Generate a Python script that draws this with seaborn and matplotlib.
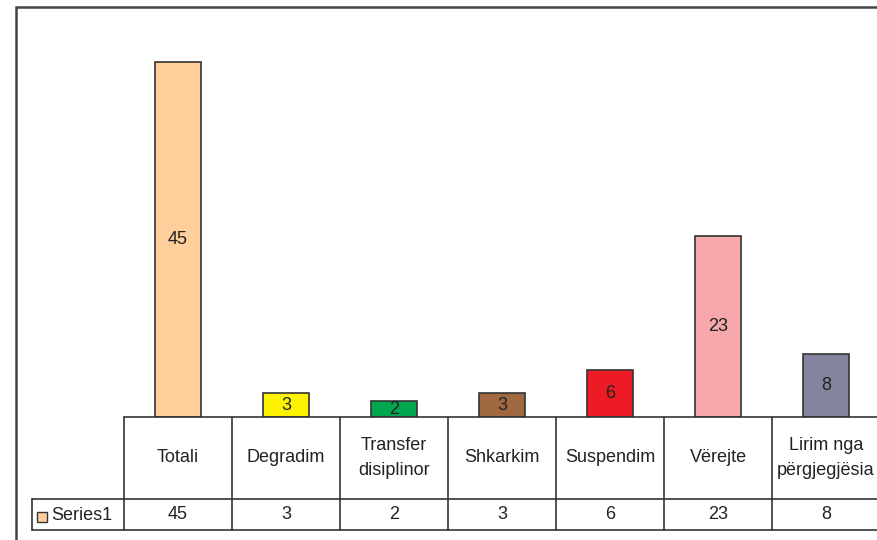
import numpy as np
import pandas as pd
import matplotlib
matplotlib.use("Agg")
import matplotlib.pyplot as plt
from matplotlib.patches import Rectangle
import seaborn as sns

## DATA ##
categories = ["Totali", "Degradim", "Transfer\ndisiplinor", "Shkarkim",
              "Suspendim", "Vërejte", "Lirim nga\npërgjegjësia"]
values = [45, 3, 2, 3, 6, 23, 8]
series_name = "Series1"
bar_colors = ["#FECE9B", "#FFF200", "#00A650", "#A0693F",
              "#ED1C24", "#F6A8AB", "#84849E"]
ymax = 50

sns.set_theme(style="white")
plt.rcParams['font.family'] = ['Liberation Sans', 'DejaVu Sans']
txt_color = "#222222"
edge = "#333333"

W, H = 877, 540
fig = plt.figure(figsize=(W / 100, H / 100), dpi=100)

def fx(px):
    return px / W

def fy(py):
    return 1 - py / H

# plot area: columns are 108 px wide, starting at x=124; baseline at y=417
col_w = 108
x0 = 124
base_y = 417
top_y = base_y - ymax * (base_y - 62) / 45
ax = fig.add_axes([fx(x0), fy(base_y), fx(col_w * 7), (base_y - top_y) / H])

df = pd.DataFrame({"cat": categories, "val": values})
sns.barplot(data=df, x="cat", y="val", hue="cat", palette=bar_colors,
            legend=False, width=0.43, edgecolor=edge, linewidth=1.2,
            saturation=1, ax=ax)
ax.set_xlim(-0.5, 6.5)
ax.set_ylim(0, ymax)
ax.set_xlabel("")
ax.set_ylabel("")
ax.set_xticks([])
ax.set_yticks([])
for s in ax.spines.values():
    s.set_visible(False)
for p in ax.patches:
    h = p.get_height()
    if np.isnan(h) or h == 0:
        continue
    ax.text(p.get_x() + p.get_width() / 2, h / 2, f"{h:g}", ha="center",
            va="center", fontsize=13, color=txt_color)

# data table below the bars
leg_w = 92
tab = fig.add_axes([fx(x0 - leg_w), fy(530), fx(col_w * 7 + leg_w), (530 - base_y) / H])
tab.set_xlim(-0.5 - leg_w / col_w, 6.5)
tab.set_ylim(0, 530 - base_y)
tab.axis("off")
row2 = 530 - 499  # height of value row
lc = "#333333"
lw = 1.2
xl = -0.5 - leg_w / col_w
# horizontal lines
tab.plot([-0.5, 6.5], [530 - base_y] * 2, color=lc, lw=lw, clip_on=False)
tab.plot([xl, 6.5], [row2, row2], color=lc, lw=lw, clip_on=False)
tab.plot([xl, 6.5], [0, 0], color=lc, lw=lw, clip_on=False)
# vertical lines
for i in range(8):
    tab.plot([i - 0.5, i - 0.5], [0, 530 - base_y], color=lc, lw=lw, clip_on=False)
tab.plot([xl, xl], [0, row2], color=lc, lw=lw, clip_on=False)

for i, (c, v) in enumerate(zip(categories, values)):
    tab.text(i, row2 + (530 - base_y - row2) / 2, c, ha="center", va="center",
             fontsize=13, color=txt_color, linespacing=1.55)
    tab.text(i, row2 / 2, str(v), ha="center", va="center",
             fontsize=13, color=txt_color)

# legend key in the table
fig.add_artist(Rectangle((fx(37), fy(522)), fx(10), 10 / H, transform=fig.transFigure,
                         facecolor=bar_colors[0], edgecolor=edge, lw=1))
fig.text(fx(51), fy(515), series_name, ha="left", va="center",
         fontsize=13, color=txt_color)

# outer chart frame
fig.add_artist(Rectangle((fx(16), fy(560)), fx(900), 553 / H, transform=fig.transFigure,
                         facecolor="none", edgecolor="#444444", lw=1.8))

fig.savefig("out.png", dpi=100)
